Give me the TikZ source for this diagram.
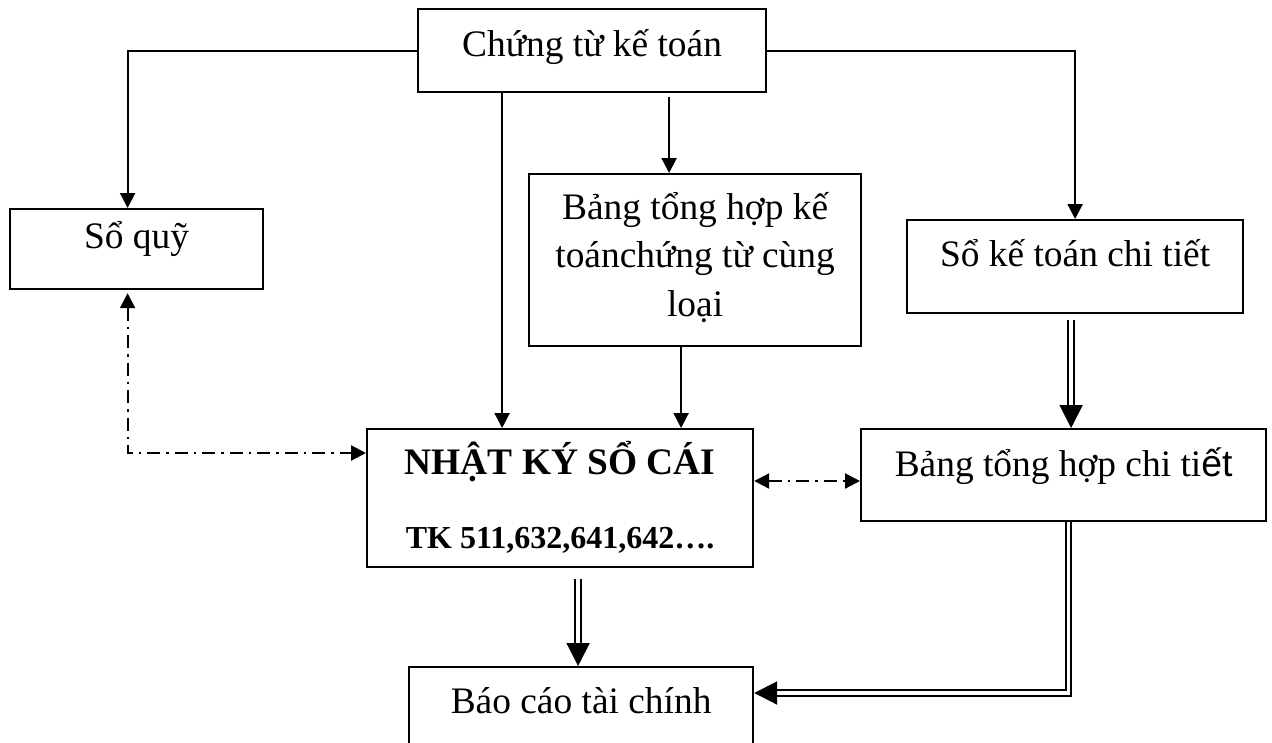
\documentclass[tikz,border=0pt]{standalone}
\usepackage{fontspec}
\setmainfont{Liberation Serif}
\newfontfamily\sansfam{Liberation Sans}
\usetikzlibrary{arrows.meta,calc}
\tikzset{
	flow chart/.style={
		x=1pt, y=-1pt,
		line width=2.2pt,
		every node/.style={font=\fontsize{37.4}{48.5}\selectfont},
		ar/.style={-{Triangle[length=15pt,width=15pt]}},
		dd/.style={dash pattern=on 13pt off 6pt on 2.5pt off 6pt,
			{Triangle[length=15pt,width=15pt]}-{Triangle[length=15pt,width=15pt]}},
		dar/.style={double, line width=2pt, double distance=3.5pt,
			-{Triangle[length=23pt,width=23pt]}}
		},
	box/.style n args={3}{draw, anchor=north west, inner sep=0pt, align=center,
		minimum width=#1pt, text height=#2pt, text depth=#3pt}
}

\begin{document}
\begin{tikzpicture}[flow chart]
   \useasboundingbox (0,0) rectangle (1272,742);
   \node[box={348}{47}{36}] (ctkt) at (417,8) {Chứng từ kế toán};
   \node[box={253}{39}{41}] (sq) at (9,208) {Sổ quỹ};
   \node[box={332}{142}{30}] (bth) at (528,173) {Bảng tổng hợp kế\\toánchứng từ cùng\\loại};
   \node[box={336}{46}{47}] (sktc) at (906,219) {Sổ kế toán chi tiết};
   \node[box={386}{119}{19}, font=\fontsize{37.4}{48.5}\selectfont\bfseries] (nk) at (366,428)
      {NHẬT KÝ SỔ CÁI\\[25pt]{\fontsize{32}{38}\selectfont TK 511,632,641,642….}};
   \node[box={405}{47}{45}] (bct) at (860,428) {Bảng tổng hợp chi ti{\sansfam ết}};
   \node[box={344}{46}{48}] (bctc) at (408,666) {Báo cáo tài chính};
   % from the vouchers
   \draw[ar] (ctkt.west) -| ($(sq.north)+(-9,0)$);
   \draw[ar] (ctkt.east) -| (sktc.north);
   \draw[ar] ($(ctkt.south)+(-90,0)$) coordinate (p1) -- (p1 |- nk.north);
   \draw[ar] ($(ctkt.south)+(77,4)$) coordinate (p2) -- (p2 |- bth.north);
   \draw[ar] ($(bth.south)+(-14,0)$) coordinate (p3) -- (p3 |- nk.north);
   % checks
   \draw[dd] ($(sq.south)+(-9,3)$) |- ($(nk.north west)+(0,25)$);
   \draw[dd] ($(nk.north east)+(0,53)$) coordinate (p4) -- (p4 -| bct.west);
   % to the reports
   \draw[dar] ($(sktc.south)+(-4,6)$) coordinate (p5) -- (p5 |- bct.north);
   \draw[dar] ($(nk.south -| bctc.north)+(-3,11)$) coordinate (p6) -- (p6 |- bctc.north);
   \draw[dar] ($(bct.south)+(5,0)$) |- ($(bctc.north east)+(0,27)$);
\end{tikzpicture}
\end{document}
